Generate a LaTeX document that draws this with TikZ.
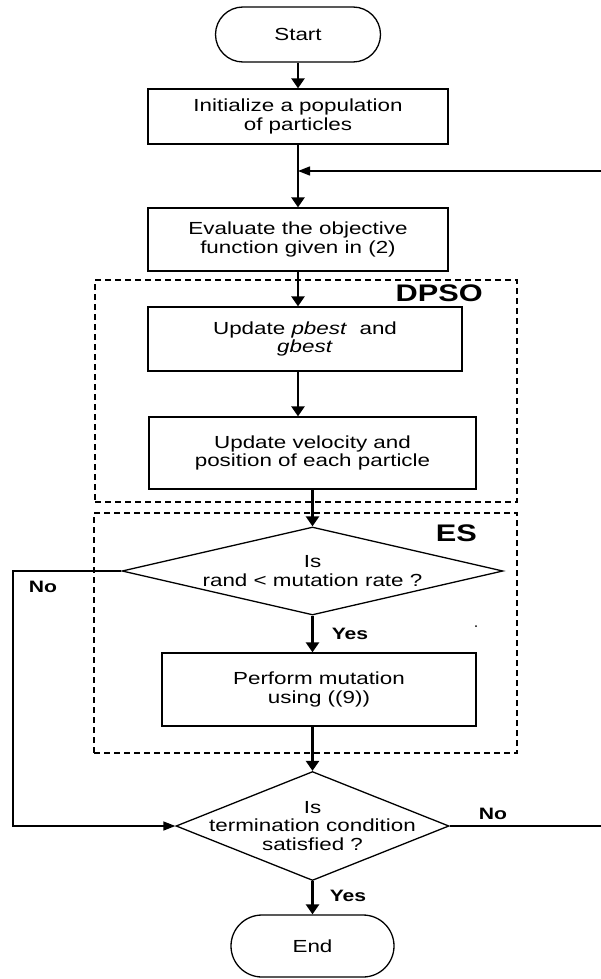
\documentclass[tikz,border=0pt]{standalone}
\usepackage{fontspec}
\setmainfont{Liberation Sans}[FakeStretch=1.28]
\usetikzlibrary{shapes.geometric,shapes.misc,arrows.meta}

\begin{document}
\begin{tikzpicture}[x=1pt,y=-1pt,
  every node/.style={font=\fontsize{17.5}{18.8}\selectfont},
  terminal/.style={draw, line width=1.3pt, rounded rectangle, minimum width=165pt, minimum height=55pt, inner sep=0pt},
  process/.style={draw, line width=1.3pt, rectangle, align=center, inner sep=0pt},
  decision/.style={draw, line width=1.3pt, diamond, inner sep=0pt},
  txt/.style={align=center, inner sep=0pt},
  group/.style={draw, line width=1.5pt, dash pattern=on 6pt off 4pt, rectangle, inner sep=0pt},
  grouplabel/.style={inner sep=0pt, font=\fontsize{24}{26}\selectfont\bfseries},
  lab/.style={inner sep=0pt, font=\fontsize{16.5}{18}\selectfont\bfseries},
  flow/.style={line width=2.6pt, -{Triangle[length=10pt,width=13pt]}},
  link/.style={line width=1.4pt},
  linkarrow/.style={line width=1.4pt, -{Triangle[length=12pt,width=9pt]}}
]
\fill[white] (0,0) rectangle (601,979);
\useasboundingbox (0,0) rectangle (601,979);

% dashed groups
\node[group, minimum width=422pt, minimum height=222pt] (dpso) at (306,391) {};
\node[group, minimum width=423pt, minimum height=240pt] (es) at (305.5,633) {};
\node[grouplabel, anchor=east] (dpsolab) at (483,293) {DPSO};
\node[grouplabel, anchor=east] (eslab) at (477,533) {ES};

% flow chart blocks
\node[terminal] (start) at (298,34.5) {Start};
\node[process, minimum width=300pt, minimum height=55pt] (init) at (298,116.5) {Initialize a population\\of particles};
\node[process, minimum width=300pt, minimum height=63pt] (eval) at (298,239.5) {Evaluate the objective\\function given in (2)};
\node[process, minimum width=314pt, minimum height=64pt] (pbest) at (305,339) {Update \textit{pbest}\ \ and\\\textit{gbest}};
\node[process, minimum width=327pt, minimum height=72pt] (vel) at (312.5,453) {Update velocity and\\position of each particle};
\node[decision, minimum width=381pt, minimum height=88pt] (d1) at (312.5,571) {};
\node[txt] (d1t) at (d1.center) {Is\\rand < mutation rate ?};
\node[process, minimum width=314pt, minimum height=73pt] (mut) at (319,689.5) {Perform mutation\\using ((9))};
\node[decision, minimum width=273pt, minimum height=109pt] (d2) at (312.5,826) {};
\node[txt] (d2t) at (d2.center) {Is\\termination condition\\satisfied ?};
\node[terminal, minimum width=163pt, minimum height=62pt] (end) at (312.5,946) {End};

% free ends and bends
\coordinate (fbin) at (601,171);
\coordinate (lbend) at (13,826);
\coordinate (noout) at (601,826);

% connectors
\draw[flow] (start.south) -- (init.north);
\draw[flow] (init.south) -- (eval.north);
\draw[linkarrow] (fbin) -- (fbin -| init.south);
\draw[flow] (eval.south) -- (eval.south |- pbest.north);
\draw[flow] (eval.south |- pbest.south) -- (eval.south |- vel.north);
\draw[flow] (vel.south) -- (d1.north);
\draw[flow] (d1.south) -- (d1.south |- mut.north);
\draw[flow] (d1.south |- mut.south) -- (d2.north);
\draw[linkarrow] (d1.west) -| (lbend) -- (d2.west);
\draw[link] (d2.east) -- (noout);
\draw[flow] (d2.south) -- (end.north);

% branch labels
\node[lab] (no1) at (43,587) {No};
\node[lab] (yes1) at (350,634) {Yes};
\node[lab] (no2) at (493,814) {No};
\node[lab] (yes2) at (348,896) {Yes};
\fill (476,626) circle (1pt);
\end{tikzpicture}
\end{document}
